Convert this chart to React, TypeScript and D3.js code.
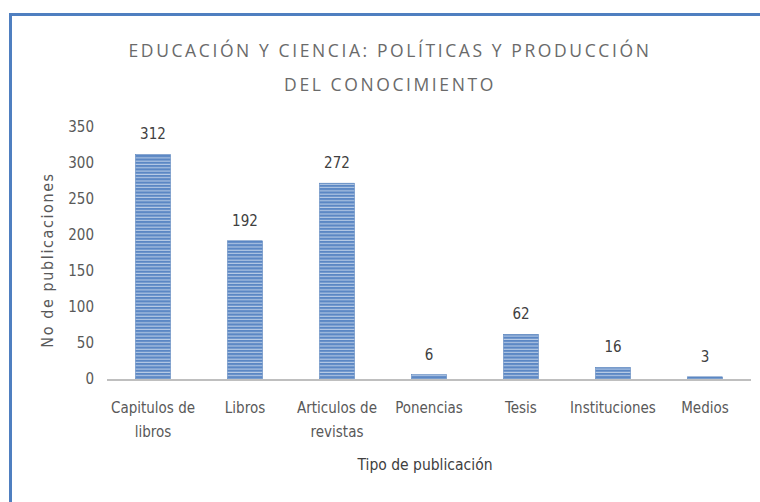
import React from "react";
import * as d3 from "d3";

const categories = [["Capitulos de", "libros"], ["Libros"], ["Articulos de", "revistas"], ["Ponencias"], ["Tesis"], ["Instituciones"], ["Medios"]];
const values = [312, 192, 272, 6, 62, 16, 3];
const yTicks = [0, 50, 100, 150, 200, 250, 300, 350];
const titleLines = ["EDUCACIÓN Y CIENCIA: POLÍTICAS Y PRODUCCIÓN", "DEL CONOCIMIENTO"];
const xTitle = "Tipo de publicación";
const yTitle = "No de publicaciones";

export default function App() {
  const W = 760, H = 502;
  const left = 107, right = 751, top = 127, bottom = 379;
  const keys = categories.map((c, i) => String(i));
  const x = d3.scaleBand<string>().domain(keys).range([left, right]).paddingInner(0.62).paddingOuter(0.31);
  const y = d3.scaleLinear().domain([0, 350]).range([bottom, top]);
  const font = "'Liberation Sans Narrow', 'DejaVu Sans Condensed', 'Open Sans', sans-serif";
  return (
    <svg width={W} height={H} style={{ position: "absolute", left: 0, top: 0, background: "#fff" }}>
      <defs>
        <pattern id="stripes" width="6" height="3.3" patternUnits="userSpaceOnUse">
          <rect width="6" height="3.3" fill="#5b87c4" />
          <rect y="2.2" width="6" height="1.1" fill="#b7cbe6" />
        </pattern>
      </defs>
      <rect x={0} y={0} width={W} height={H} fill="#fff" />
      <line x1={10.5} y1={14} x2={10.5} y2={H} stroke="#4f7fc0" strokeWidth={3} />
      <line x1={9} y1={14.5} x2={W} y2={14.5} stroke="#4f7fc0" strokeWidth={3} />
      {titleLines.map((t, i) => (
        <text key={i} x={390} y={57 + i * 34} textAnchor="middle" fontFamily="'Open Sans', sans-serif" fontSize={17.5} letterSpacing={2.6} fill="#6a6a6a">{t}</text>
      ))}
      {yTicks.map(t => (
        <text key={t} x={94} y={y(t) + 5} textAnchor="end" fontFamily={font} fontSize={15} fill="#595959">{t}</text>
      ))}
      {values.map((v, i) => (
        <g key={i}>
          <rect x={x(String(i))} y={y(v)} width={x.bandwidth()} height={bottom - y(v)} fill="url(#stripes)" stroke="#4a78b5" strokeWidth={0.5} />
          <text x={(x(String(i)) as number) + x.bandwidth() / 2} y={y(v) - 15} textAnchor="middle" fontFamily={font} fontSize={15} fill="#404040">{v}</text>
        </g>
      ))}
      <line x1={left} x2={right} y1={bottom + 1} y2={bottom + 1} stroke="#bfbfbf" strokeWidth={2} />
      {categories.map((c, i) => (
        <text key={i} x={(x(String(i)) as number) + x.bandwidth() / 2} y={413} textAnchor="middle" fontFamily={font} fontSize={15} fill="#595959">
          {c.map((l, j) => (
            <tspan key={j} x={(x(String(i)) as number) + x.bandwidth() / 2} dy={j === 0 ? 0 : 24}>{l}</tspan>
          ))}
        </text>
      ))}
      <text x={425} y={470} textAnchor="middle" fontFamily={font} fontSize={15.5} fill="#404040">{xTitle}</text>
      <text transform={`translate(53,260) rotate(-90)`} textAnchor="middle" fontFamily={font} fontSize={16} letterSpacing={1.6} fill="#595959">{yTitle}</text>
    </svg>
  );
}
